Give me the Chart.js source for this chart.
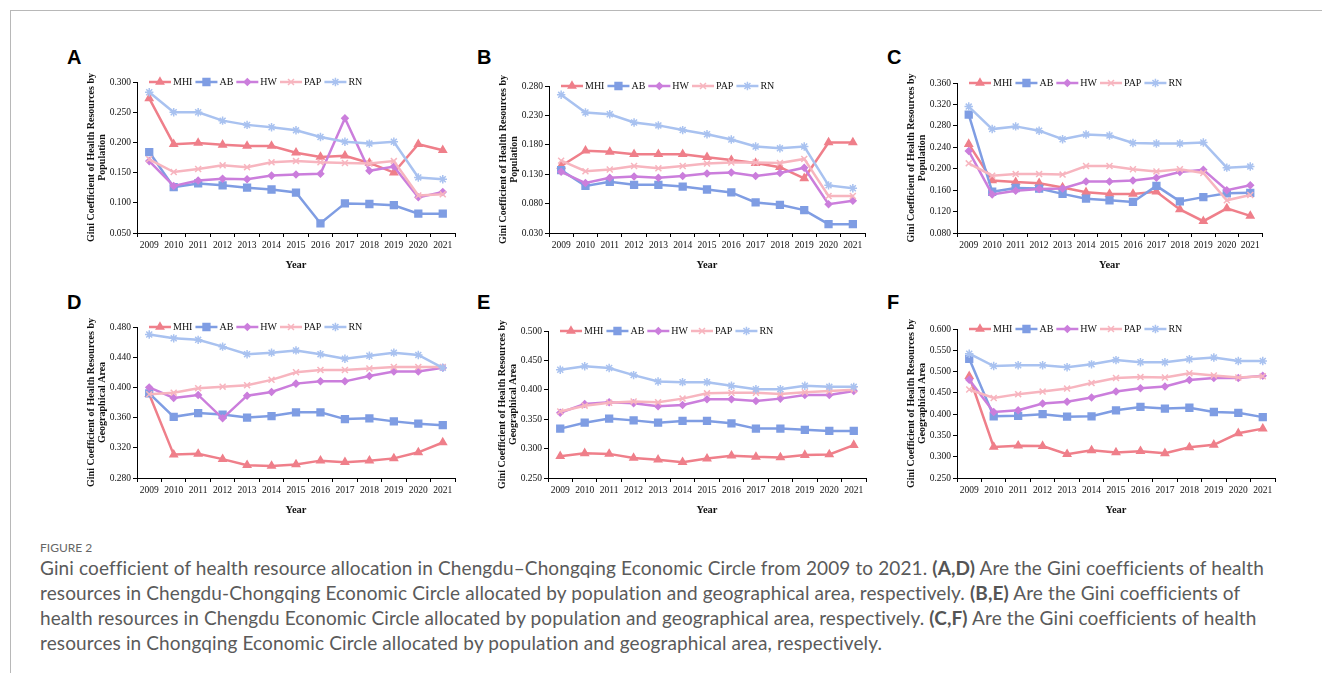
<!DOCTYPE html>
<html>
<head>
<meta charset="utf-8">
<script src="https://cdn.jsdelivr.net/npm/chart.js@4.4.1/dist/chart.umd.min.js"></script>
<style>
  body { margin: 0; background: #fff; width: 1322px; height: 675px; overflow: hidden; position: relative; }
  .frame { position: absolute; left: 10px; top: 10px; width: 1312px; height: 662px; border-top: 1px solid #b8b8b8; border-left: 1px solid #b8b8b8; }
  .letter { position: absolute; font: bold 20px "Liberation Sans", Arial, sans-serif; line-height: 20px; color: #000; }
  canvas { position: absolute; }
  .figno { position: absolute; left: 40px; top: 540px; font: 12px Lato, sans-serif; color: #666; }
  .caption { position: absolute; left: 40px; top: 555px; font: 19px Lato, sans-serif; letter-spacing: 0.12px; line-height: 25px; color: #5a5a5a; white-space: nowrap; }
  .caption b { font-weight: bold; color: #555; }
</style>
</head>
<body>
<div class="frame"></div>

<div class="letter" style="left:67px;top:47px">A</div>
<div class="letter" style="left:477px;top:47px">B</div>
<div class="letter" style="left:887px;top:47px">C</div>
<div class="letter" style="left:67px;top:292px">D</div>
<div class="letter" style="left:477px;top:292px">E</div>
<div class="letter" style="left:887px;top:292px">F</div>

<canvas id="chartA"></canvas>
<canvas id="chartB"></canvas>
<canvas id="chartC"></canvas>
<canvas id="chartD"></canvas>
<canvas id="chartE"></canvas>
<canvas id="chartF"></canvas>

<div class="figno">FIGURE 2</div>
<div class="caption">Gini coefficient of health resource allocation in Chengdu–Chongqing Economic Circle from 2009 to 2021. <b>(A,D)</b> Are the Gini coefficients of health<br>resources in Chengdu-Chongqing Economic Circle allocated by population and geographical area, respectively. <b>(B,E)</b> Are the Gini coefficients of<br>health resources in Chengdu Economic Circle allocated by population and geographical area, respectively. <b>(C,F)</b> Are the Gini coefficients of health<br>resources in Chongqing Economic Circle allocated by population and geographical area, respectively.</div>

<script>
const years = ['2009', '2010', '2011', '2012', '2013', '2014', '2015', '2016', '2017', '2018', '2019', '2020', '2021'];
const seriesNames = ['MHI', 'AB', 'HW', 'PAP', 'RN'];

// A - Chengdu-Chongqing, by population
const A_MHI = [0.273, 0.197, 0.199, 0.196, 0.194, 0.194, 0.183, 0.176, 0.178, 0.166, 0.150, 0.197, 0.187];
const A_AB  = [0.184, 0.126, 0.132, 0.129, 0.125, 0.122, 0.117, 0.066, 0.099, 0.098, 0.096, 0.082, 0.082];
const A_HW  = [0.169, 0.128, 0.137, 0.140, 0.139, 0.145, 0.147, 0.148, 0.240, 0.153, 0.160, 0.109, 0.118];
const A_PAP = [0.172, 0.151, 0.156, 0.162, 0.159, 0.167, 0.169, 0.167, 0.166, 0.165, 0.169, 0.112, 0.114];
const A_RN  = [0.283, 0.250, 0.250, 0.236, 0.229, 0.225, 0.220, 0.209, 0.201, 0.198, 0.201, 0.142, 0.139];

// B - Chengdu, by population
const B_MHI = [0.144, 0.170, 0.168, 0.164, 0.164, 0.164, 0.159, 0.154, 0.149, 0.142, 0.123, 0.184, 0.184];
const B_AB  = [0.137, 0.110, 0.117, 0.112, 0.112, 0.109, 0.104, 0.099, 0.082, 0.078, 0.069, 0.045, 0.045];
const B_HW  = [0.134, 0.115, 0.124, 0.126, 0.124, 0.127, 0.131, 0.133, 0.127, 0.132, 0.141, 0.079, 0.085];
const B_PAP = [0.153, 0.135, 0.138, 0.144, 0.140, 0.144, 0.148, 0.150, 0.150, 0.149, 0.156, 0.093, 0.093];
const B_RN  = [0.265, 0.235, 0.232, 0.218, 0.213, 0.205, 0.198, 0.189, 0.177, 0.174, 0.177, 0.111, 0.106];

// C - Chongqing, by population
const C_MHI = [0.246, 0.178, 0.175, 0.173, 0.165, 0.156, 0.153, 0.153, 0.157, 0.124, 0.102, 0.126, 0.112];
const C_AB  = [0.301, 0.157, 0.164, 0.163, 0.153, 0.144, 0.141, 0.138, 0.168, 0.139, 0.147, 0.154, 0.155];
const C_HW  = [0.233, 0.152, 0.159, 0.162, 0.163, 0.176, 0.176, 0.178, 0.183, 0.194, 0.198, 0.160, 0.169];
const C_PAP = [0.210, 0.187, 0.190, 0.190, 0.189, 0.205, 0.205, 0.199, 0.195, 0.199, 0.192, 0.141, 0.151];
const C_RN  = [0.316, 0.274, 0.279, 0.271, 0.255, 0.264, 0.262, 0.248, 0.247, 0.247, 0.249, 0.202, 0.204];

// D - Chengdu-Chongqing, by geographical area
const D_MHI = [0.391, 0.311, 0.312, 0.305, 0.297, 0.296, 0.298, 0.303, 0.301, 0.303, 0.306, 0.314, 0.327];
const D_AB  = [0.392, 0.361, 0.366, 0.364, 0.360, 0.362, 0.367, 0.367, 0.358, 0.359, 0.355, 0.352, 0.350];
const D_HW  = [0.400, 0.386, 0.390, 0.359, 0.389, 0.394, 0.405, 0.408, 0.408, 0.415, 0.421, 0.421, 0.426];
const D_PAP = [0.391, 0.393, 0.399, 0.401, 0.403, 0.410, 0.420, 0.423, 0.423, 0.425, 0.427, 0.427, 0.427];
const D_RN  = [0.470, 0.465, 0.463, 0.454, 0.444, 0.446, 0.449, 0.444, 0.438, 0.442, 0.446, 0.443, 0.426];

// E - Chengdu, by geographical area
const E_MHI = [0.287, 0.292, 0.291, 0.284, 0.281, 0.277, 0.283, 0.288, 0.286, 0.285, 0.289, 0.290, 0.306];
const E_AB  = [0.334, 0.344, 0.351, 0.348, 0.344, 0.347, 0.347, 0.343, 0.334, 0.334, 0.332, 0.330, 0.330];
const E_HW  = [0.361, 0.376, 0.379, 0.377, 0.372, 0.374, 0.384, 0.384, 0.381, 0.385, 0.391, 0.391, 0.398];
const E_PAP = [0.363, 0.373, 0.378, 0.380, 0.379, 0.385, 0.394, 0.395, 0.395, 0.393, 0.396, 0.398, 0.400];
const E_RN  = [0.434, 0.440, 0.437, 0.425, 0.414, 0.413, 0.413, 0.407, 0.401, 0.401, 0.407, 0.405, 0.405];

// F - Chongqing, by geographical area
const F_MHI = [0.489, 0.323, 0.326, 0.325, 0.306, 0.315, 0.310, 0.313, 0.308, 0.322, 0.328, 0.355, 0.366];
const F_AB  = [0.530, 0.395, 0.396, 0.400, 0.394, 0.395, 0.409, 0.417, 0.413, 0.415, 0.405, 0.403, 0.393];
const F_HW  = [0.481, 0.405, 0.409, 0.425, 0.429, 0.439, 0.453, 0.461, 0.465, 0.480, 0.485, 0.485, 0.490];
const F_PAP = [0.458, 0.438, 0.447, 0.453, 0.460, 0.473, 0.485, 0.487, 0.486, 0.496, 0.491, 0.486, 0.489];
const F_RN  = [0.542, 0.513, 0.515, 0.515, 0.510, 0.517, 0.527, 0.522, 0.522, 0.529, 0.533, 0.525, 0.525];

const popTitle = ['Gini Coefficient of Health Resources by', 'Population'];
const areaTitle = ['Gini Coefficient of Health Resources by', 'Geographical Area'];

// looks of each series (same in every panel)
const looks = [
  { color: '#ef7f8a', point: 'triangle', radius: 4.2 },
  { color: '#7f9de3', point: 'rect', radius: 4.8 },
  { color: '#cb7edc', point: 'rectRot', radius: 3.2 },
  { color: '#f7b5bf', point: 'crossRot', radius: 4.2 },
  { color: '#a9c2f0', point: 'star', radius: 4.2 }
];

// plot box of every panel, in page pixels
const panels = [
  { id: 'A', l: 137, t: 82, r: 455, b: 233, min: 0.05, max: 0.30, step: 0.05, title: popTitle, data: [A_MHI, A_AB, A_HW, A_PAP, A_RN] },
  { id: 'B', l: 549, t: 86, r: 865, b: 233, min: 0.03, max: 0.28, step: 0.05, title: popTitle, data: [B_MHI, B_AB, B_HW, B_PAP, B_RN] },
  { id: 'C', l: 957, t: 83, r: 1262, b: 233, min: 0.08, max: 0.36, step: 0.04, title: popTitle, data: [C_MHI, C_AB, C_HW, C_PAP, C_RN] },
  { id: 'D', l: 137, t: 327, r: 455, b: 478, min: 0.28, max: 0.48, step: 0.04, title: areaTitle, data: [D_MHI, D_AB, D_HW, D_PAP, D_RN] },
  { id: 'E', l: 548, t: 331, r: 866, b: 478, min: 0.25, max: 0.50, step: 0.05, title: areaTitle, data: [E_MHI, E_AB, E_HW, E_PAP, E_RN] },
  { id: 'F', l: 957, t: 329, r: 1275, b: 478, min: 0.25, max: 0.60, step: 0.05, title: areaTitle, data: [F_MHI, F_AB, F_HW, F_PAP, F_RN] }
];

const AXIS_W = 77, TOP_PAD = 17, RIGHT_PAD = 10, XAXIS_H = 47;
const serif = '"Liberation Serif", "Times New Roman", serif';

// legend drawn inside the plot, line + marker like Excel
const lineLegend = {
  id: 'lineLegend',
  afterDatasetsDraw(chart) {
    const ctx = chart.ctx;
    let x = chart.chartArea.left + 12;
    const y = chart.chartArea.top;
    ctx.save();
    ctx.font = '10px ' + serif;
    ctx.textBaseline = 'middle';
    ctx.textAlign = 'left';
    chart.data.datasets.forEach(ds => {
      ctx.strokeStyle = ds.borderColor;
      ctx.lineWidth = ds.borderWidth;
      ctx.beginPath();
      ctx.moveTo(x, y);
      ctx.lineTo(x + 22, y);
      ctx.stroke();
      ctx.fillStyle = ds.borderColor;
      ctx.lineWidth = 1.5;
      Chart.helpers.drawPoint(ctx, { pointStyle: ds.pointStyle, radius: ds.pointRadius, borderWidth: 1.5, rotation: 0 }, x + 11, y);
      x += 24;
      ctx.fillStyle = '#111';
      ctx.fillText(ds.label, x, y + 0.5);
      x += ctx.measureText(ds.label).width + 3;
    });
    ctx.restore();
  }
};

panels.forEach(p => {
  const cv = document.getElementById('chart' + p.id);
  const w = p.r - p.l + AXIS_W + RIGHT_PAD;
  const h = p.b - p.t + TOP_PAD + XAXIS_H;
  cv.width = w;
  cv.height = h;
  cv.style.left = (p.l - AXIS_W) + 'px';
  cv.style.top = (p.t - TOP_PAD) + 'px';

  const datasets = p.data.map((vals, i) => ({
    label: seriesNames[i],
    data: vals,
    borderColor: looks[i].color,
    backgroundColor: looks[i].color,
    pointBackgroundColor: looks[i].color,
    pointBorderColor: looks[i].color,
    pointStyle: looks[i].point,
    pointRadius: looks[i].radius,
    pointBorderWidth: 1.5,
    borderWidth: 2.5,
    tension: 0,
    order: -i
  }));

  new Chart(cv.getContext('2d'), {
    type: 'line',
    data: { labels: years, datasets: datasets },
    options: {
      responsive: false,
      animation: false,
      devicePixelRatio: 1,
      layout: { padding: { left: 0, top: TOP_PAD, right: RIGHT_PAD, bottom: 0 } },
      plugins: { legend: { display: false }, tooltip: { enabled: false } },
      scales: {
        x: {
          offset: true,
          grid: { display: true, offset: true, drawOnChartArea: false, tickLength: 4, color: '#000' },
          border: { display: true, color: '#000', width: 1 },
          ticks: { color: '#111', padding: 3, maxRotation: 0, autoSkip: false, font: { family: serif, size: 9.5 } },
          title: { display: true, text: 'Year', color: '#111', padding: { top: 0, bottom: 8 }, font: { family: serif, size: 10.5, weight: 'bold' } },
          afterFit: s => { s.height = XAXIS_H; }
        },
        y: {
          min: p.min,
          max: p.max,
          grid: { display: true, drawOnChartArea: false, tickLength: 4, color: '#000' },
          border: { display: true, color: '#000', width: 1 },
          ticks: { stepSize: p.step, color: '#111', padding: 2, font: { family: serif, size: 9.5 }, callback: v => v.toFixed(3) },
          title: { display: true, text: p.title, color: '#111', padding: { top: 26, bottom: 0 }, font: { family: serif, size: 10, weight: 'bold', lineHeight: 1.1 } },
          afterFit: s => { s.width = AXIS_W; }
        }
      }
    },
    plugins: [lineLegend]
  });
});
</script>
</body>
</html>
